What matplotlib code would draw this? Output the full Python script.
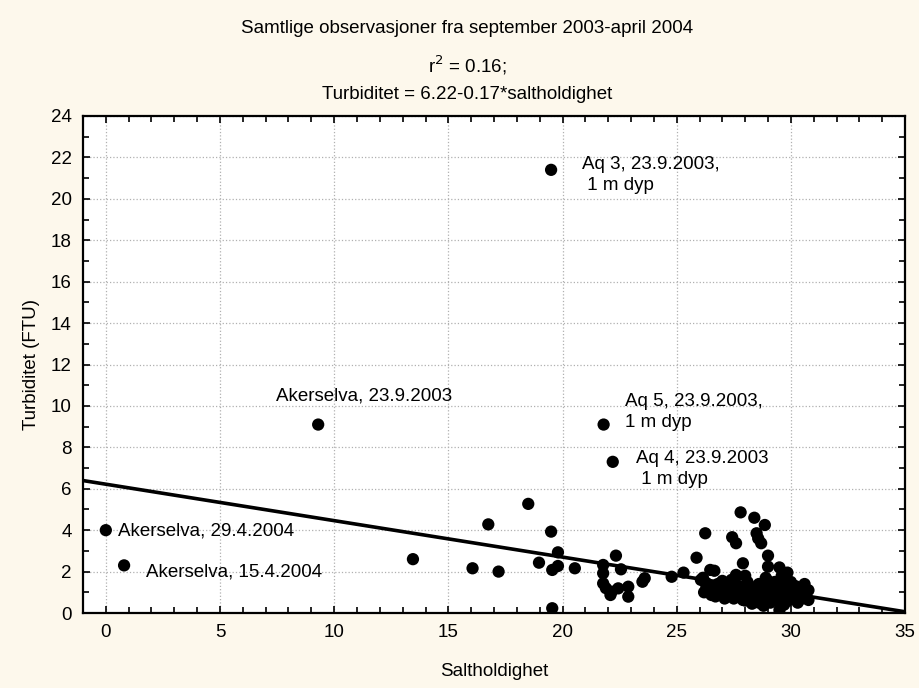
import matplotlib
matplotlib.use("Agg")
import matplotlib.pyplot as plt
from matplotlib.ticker import MultipleLocator

plt.rcParams['font.family'] = ['Liberation Sans', 'DejaVu Sans']

# saltholdighet / turbiditet, lest av figuren
saltholdighet = [
    0.0, 0.8, 9.3, 13.45, 16.06, 16.75, 17.2, 18.5, 18.97, 19.5, 19.8, 19.55, 19.8, 19.55, 19.5,
    20.54, 21.8, 22.2, 22.34, 21.78, 21.78, 22.56, 21.78, 22.15, 22.44, 22.88, 22.88, 22.1, 21.9,
    23.6, 23.5, 24.78, 25.3, 25.87, 26.25,
    27.8, 28.4, 28.86, 28.5, 28.57, 28.7, 27.43, 27.6, 29.0, 29.0, 29.5, 29.85, 27.9, 26.65, 26.47,
    27.6, 29.5, 30.77, 30.77, 30.6,
    26.06, 26.3, 26.52, 26.88, 27.2, 27.47, 27.77, 27.9, 27.6, 26.2, 26.7, 27.0, 27.3, 27.5, 27.7,
    27.9, 28.0, 28.1, 28.2, 28.3, 28.4, 28.5, 28.6, 28.6, 28.7, 28.8, 28.9, 29.0, 29.0, 29.1, 29.2,
    29.3, 29.3, 29.4, 29.5, 29.5, 29.6, 29.7, 29.8, 29.8, 29.9, 30.0, 30.1, 30.2, 30.3, 30.4, 30.5,
    30.6, 28.0, 27.4, 28.9, 29.6, 30.0, 26.8, 27.1, 28.3, 29.7, 30.3, 26.15, 26.3,
    26.5, 26.9, 27.2, 27.6, 28.0, 28.4, 28.8, 29.2, 29.6, 30.0, 30.4, 27.0, 27.8, 28.6, 29.4, 30.2,
    28.2, 29.0, 29.9, 28.8, 27.3, 30.5,
]
turbiditet = [
    4.0, 2.3, 9.1, 2.6, 2.16, 4.28, 2.0, 5.27, 2.43, 3.93, 2.93, 2.08, 2.27, 0.23, 21.4,
    2.16, 9.1, 7.3, 2.77, 2.32, 1.92, 2.11, 1.43, 1.03, 1.19, 1.27, 0.79, 0.87, 1.2,
    1.68, 1.51, 1.75, 1.95, 2.67, 3.85,
    4.86, 4.6, 4.25, 3.85, 3.6, 3.37, 3.66, 3.37, 2.77, 2.24, 2.2, 1.95, 2.4, 2.04, 2.08,
    1.84, 0.14, 0.63, 1.1, 0.97,
    1.6, 1.27, 0.87, 1.03, 1.43, 1.19, 0.79, 0.63, 1.75, 1.0, 0.8, 1.2, 0.9, 0.7, 1.3,
    1.0, 0.6, 1.5, 0.9, 1.2, 0.7, 1.0, 0.5, 1.4, 0.8, 1.1, 0.6, 1.3, 0.9, 0.5, 1.1,
    0.8, 1.5, 0.6, 1.0, 1.3, 0.7, 1.2, 0.9, 1.6, 0.6, 1.1, 0.8, 1.3, 0.9, 1.2, 0.7,
    1.4, 1.8, 1.6, 1.7, 1.8, 1.5, 1.4, 0.7, 0.45, 0.4, 0.5, 1.7, 1.45,
    1.15, 1.25, 1.0, 0.95, 1.05, 0.95, 0.85, 0.75, 0.95, 0.7, 0.95, 1.55, 1.2, 1.15, 0.85, 1.0,
    1.3, 1.55, 1.35, 0.35, 1.35, 0.9,
]

# regresjon (linjen i figuren går fra ca 6.4 ved -1 til ca 0 ved 35)
a = 6.22
b = -0.176
linje_x = [-1, 35]

etiketter = [
    ("Aq 3, 23.9.2003,\n 1 m dyp", 20.85, 21.15),
    ("Akerselva, 23.9.2003", 7.45, 10.48),
    ("Aq 5, 23.9.2003,\n1 m dyp", 22.73, 9.7),
    ("Aq 4, 23.9.2003\n 1 m dyp", 23.2, 6.95),
    ("Akerselva, 29.4.2004", 0.53, 3.96),
    ("Akerselva, 15.4.2004", 1.75, 1.98),
]

bg = '#fdf8ec'
fig = plt.figure(figsize=(9.19, 6.88), dpi=100, facecolor=bg)
ax = fig.add_axes([0.0903, 0.109, 0.8945, 0.7224])
ax.set_facecolor('white')

ax.plot(linje_x, [a + b * x for x in linje_x], color='black', lw=2.6, zorder=3)
ax.scatter(saltholdighet, turbiditet, s=78, color='black', edgecolors='none', zorder=4)

for tekst, x, y in etiketter:
    ax.text(x, y, tekst, fontsize=13.5, va='center', ha='left', linespacing=1.3, zorder=5)

ax.set_xlim(-1, 35)
ax.set_ylim(0, 24)
ax.xaxis.set_major_locator(MultipleLocator(5))
ax.xaxis.set_minor_locator(MultipleLocator(1))
ax.yaxis.set_major_locator(MultipleLocator(2))
ax.yaxis.set_minor_locator(MultipleLocator(1))
ax.tick_params(which='both', direction='in', top=True, right=True, labelsize=13.5, width=1.2)
ax.tick_params(which='major', length=5, pad=8)
ax.tick_params(which='minor', length=4)
ax.grid(True, which='major', color='#b0b0b0', linestyle=':', lw=0.9)
for s in ax.spines.values():
    s.set_linewidth(1.6)

ax.set_xlabel('Saltholdighet', fontsize=13.5, labelpad=16)
ax.set_ylabel('Turbiditet (FTU)', fontsize=13.5, labelpad=8)

fig.text(0.508, 0.958, 'Samtlige observasjoner fra september 2003-april 2004', ha='center', va='center', fontsize=13.5)
fig.text(0.508, 0.905, r'r$^2$ = 0.16;', ha='center', va='center', fontsize=13.5)
fig.text(0.508, 0.862, 'Turbiditet = 6.22-0.17*saltholdighet', ha='center', va='center', fontsize=13.5)

fig.savefig('out.png', dpi=100, facecolor=bg)
